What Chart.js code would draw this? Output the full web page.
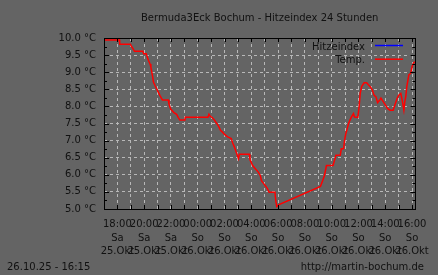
<!DOCTYPE html>
<html>
<head>
<meta charset="utf-8">
<script src="https://cdn.jsdelivr.net/npm/chart.js@4/dist/chart.umd.min.js"></script>
<style>
  html, body { margin: 0; padding: 0; background: #646464; }
  canvas { display: block; }
</style>
</head>
<body>
<canvas id="chart" width="438" height="275"></canvas>
<script>
// Stunden seit Sa 25.10. 18:00 und Temperatur in °C
const hours = [
  -0.93, 0.15, 0.17, 0.96, 1.04, 1.13, 1.28, 1.90, 1.96, 2.15, 2.22, 2.32, 2.44, 2.50, 2.57, 2.64,
  2.69, 2.81, 2.94, 3.06, 3.19, 3.36, 3.80, 3.85, 3.98, 4.22, 4.42, 4.54, 4.67, 5.04, 5.07, 6.76,
  6.84, 6.94, 7.06, 7.21, 7.33, 7.46, 7.58, 7.70, 7.87, 8.00, 8.24, 8.50, 8.61, 8.74, 8.91, 9.04,
  9.11, 9.85, 9.90, 10.10, 10.30, 10.52, 10.67, 10.76, 10.91, 11.09, 11.21, 11.33, 11.76, 11.83,
  11.90, 12.07, 15.16, 15.33, 15.46, 15.61, 16.10, 16.32, 16.64, 16.72, 16.89, 16.96, 17.06, 17.13,
  17.26, 17.39, 17.50, 17.63, 17.70, 17.95, 18.05, 18.13, 18.24, 18.42, 18.61, 18.74, 18.91, 19.04,
  19.16, 19.31, 19.43, 19.56, 19.68, 19.85, 20.02, 20.17, 20.35, 20.59, 20.72, 20.89, 21.01, 21.16,
  21.26, 21.39, 21.46, 21.53, 21.61, 21.76, 21.90, 22.00, 22.10, 22.20
];
const temps = [
  9.94, 9.94, 9.82, 9.82, 9.76, 9.71, 9.61, 9.61, 9.54, 9.54, 9.46, 9.34, 9.24, 9.15, 9.00, 8.85,
  8.71, 8.61, 8.51, 8.41, 8.31, 8.19, 8.19, 8.07, 7.92, 7.82, 7.77, 7.68, 7.60, 7.60, 7.68, 7.68,
  7.77, 7.71, 7.68, 7.62, 7.55, 7.48, 7.40, 7.30, 7.24, 7.18, 7.11, 7.06, 6.93, 6.81, 6.62, 6.47,
  6.60, 6.60, 6.44, 6.27, 6.18, 6.08, 5.98, 5.83, 5.75, 5.66, 5.59, 5.49, 5.49, 5.24,
  5.07, 5.13, 5.66, 5.83, 5.98, 6.27, 6.27, 6.57, 6.57, 6.76, 6.76, 7.00, 7.21, 7.30,
  7.50, 7.62, 7.71, 7.79, 7.69, 7.68, 7.99, 8.38, 8.58, 8.69, 8.69, 8.63, 8.56, 8.48,
  8.33, 8.28, 8.11, 8.17, 8.24, 8.14, 8.04, 7.94, 7.89, 7.89, 8.04, 8.24, 8.33, 8.38,
  8.19, 7.89, 8.14, 8.28, 8.58, 8.92, 8.97, 9.16, 9.26, 9.31
];
// Hitzeindex wird bei diesen Temperaturen nicht berechnet
const hitzeindex = [];

const xTickTimes = ['18:00', '20:00', '22:00', '00:00', '02:00', '04:00', '06:00', '08:00', '10:00', '12:00', '14:00', '16:00'];
const xTickDays = ['Sa', 'Sa', 'Sa', 'So', 'So', 'So', 'So', 'So', 'So', 'So', 'So', 'So'];
const xTickDates = ['25.Okt', '25.Okt', '25.Okt', '26.Okt', '26.Okt', '26.Okt', '26.Okt', '26.Okt', '26.Okt', '26.Okt', '26.Okt', '26.Okt'];

const titleText = 'Bermuda3Eck Bochum - Hitzeindex 24 Stunden';
const stampText = '26.10.25 - 16:15';
const urlText = 'http://martin-bochum.de';

const FONT = '10px "DejaVu Sans"';
const TEXT = '#111111';

const gnuplotLook = {
    id: 'gnuplotLook',
    afterDatasetsDraw(chart) {
        const ctx = chart.ctx;
        const a = chart.chartArea;
        const xs = chart.scales.x, ys = chart.scales.y;
        ctx.save();

        // Rahmen
        ctx.strokeStyle = '#000';
        ctx.lineWidth = 1;
        ctx.strokeRect(Math.round(a.left) + 0.5, Math.round(a.top) + 0.5,
            Math.round(a.right - a.left), Math.round(a.bottom - a.top));

        // Ticks nach innen
        ctx.beginPath();
        xs.ticks.forEach(t => {
            const px = Math.round(xs.getPixelForValue(t.value)) + 0.5;
            ctx.moveTo(px, a.bottom); ctx.lineTo(px, a.bottom - 4);
            ctx.moveTo(px, a.top); ctx.lineTo(px, a.top + 4);
        });
        for (let v = ys.min; v <= ys.max + 1e-9; v += 0.25) {
            const py = Math.round(ys.getPixelForValue(v)) + 0.5;
            const len = Math.abs(v * 2 - Math.round(v * 2)) < 1e-6 ? 5 : 3;
            ctx.moveTo(a.left, py); ctx.lineTo(a.left + len, py);
            ctx.moveTo(a.right, py); ctx.lineTo(a.right - len, py);
        }
        ctx.stroke();

        // Legende
        ctx.font = FONT;
        ctx.fillStyle = TEXT;
        ctx.textAlign = 'right';
        ctx.textBaseline = 'alphabetic';
        chart.data.datasets.forEach((ds, i) => {
            const base = 49.5 + i * 13.7;
            ctx.fillText(ds.label, 365, base);
            ctx.strokeStyle = ds.borderColor;
            ctx.lineWidth = 1.5;
            ctx.beginPath();
            ctx.moveTo(375, base - 4);
            ctx.lineTo(403, base - 4);
            ctx.stroke();
        });

        // Titel und Fusszeile
        ctx.textAlign = 'center';
        ctx.fillText(titleText, (a.left + a.right) / 2, 21);
        ctx.textAlign = 'left';
        ctx.fillText(stampText, 7, 270);
        ctx.textAlign = 'right';
        ctx.fillText(urlText, 424, 270);
        ctx.restore();
    }
};

new Chart(document.getElementById('chart'), {
    type: 'line',
    data: {
        datasets: [{
            label: 'Hitzeindex',
            data: hitzeindex,
            borderColor: '#0000ff',
            borderWidth: 1.5,
            pointRadius: 0
        }, {
            label: 'Temp.',
            data: hours.map((h, i) => ({ x: h, y: temps[i] })),
            borderColor: '#ff0000',
            borderWidth: 1.5,
            pointRadius: 0,
            tension: 0
        }]
    },
    options: {
        responsive: false,
        animation: false,
        devicePixelRatio: 1,
        layout: { padding: { top: 38, right: 21, bottom: 14, left: 0 } },
        plugins: {
            legend: { display: false },
            tooltip: { enabled: false },
            title: { display: false }
        },
        scales: {
            x: {
                type: 'linear',
                min: -1,
                max: 22.25,
                // ein Tick pro Stunde von 18:00 bis 16:00
                afterBuildTicks: s => {
                    s.ticks = Array.from({ length: 23 }, (_, i) => ({ value: i }));
                },
                afterFit: s => { s.height = 52; },
                grid: { color: '#b8b8b8', drawTicks: false, lineWidth: 1 },
                border: { display: false, dash: [3, 3] },
                ticks: {
                    autoSkip: false,
                    maxRotation: 0,
                    minRotation: 0,
                    padding: 9,
                    color: TEXT,
                    font: { family: 'DejaVu Sans', size: 10, lineHeight: 1.35 },
                    callback: v => {
                        if (v % 2 !== 0) return '';
                        const i = v / 2;
                        return [xTickTimes[i], xTickDays[i], xTickDates[i]];
                    }
                }
            },
            y: {
                min: 5,
                max: 10,
                afterFit: s => { s.width = 104; },
                grid: { color: '#b8b8b8', drawTicks: false, lineWidth: 1 },
                border: { display: false, dash: [3, 3] },
                ticks: {
                    stepSize: 0.5,
                    padding: 8,
                    color: TEXT,
                    font: { family: 'DejaVu Sans', size: 10 },
                    callback: v => v.toFixed(1) + ' °C'
                }
            }
        }
    },
    plugins: [gnuplotLook]
});
</script>
</body>
</html>
